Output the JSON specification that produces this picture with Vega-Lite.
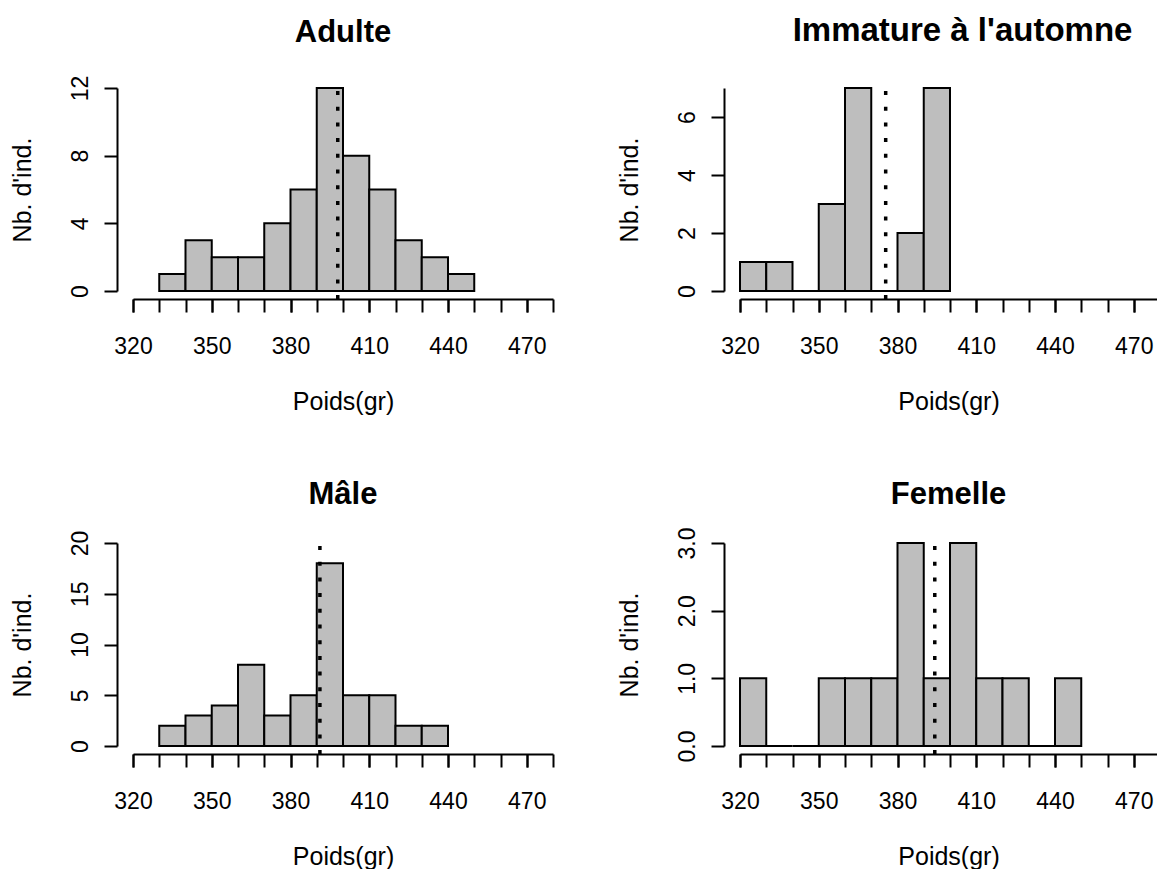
{
  "$schema": "https://vega.github.io/schema/vega-lite/v6.json",
  "padding": {"left": 9, "top": 15, "right": 0, "bottom": 0},
  "background": "white",
  "datasets": {
    "adulte": [
      {"lo": 330, "hi": 340, "n": 1}, {"lo": 340, "hi": 350, "n": 3}, {"lo": 350, "hi": 360, "n": 2},
      {"lo": 360, "hi": 370, "n": 2}, {"lo": 370, "hi": 380, "n": 4}, {"lo": 380, "hi": 390, "n": 6},
      {"lo": 390, "hi": 400, "n": 12}, {"lo": 400, "hi": 410, "n": 8}, {"lo": 410, "hi": 420, "n": 6},
      {"lo": 420, "hi": 430, "n": 3}, {"lo": 430, "hi": 440, "n": 2}, {"lo": 440, "hi": 450, "n": 1}
    ],
    "immature": [
      {"lo": 320, "hi": 330, "n": 1}, {"lo": 330, "hi": 340, "n": 1}, {"lo": 340, "hi": 350, "n": 0},
      {"lo": 350, "hi": 360, "n": 3}, {"lo": 360, "hi": 370, "n": 7}, {"lo": 370, "hi": 380, "n": 0},
      {"lo": 380, "hi": 390, "n": 2}, {"lo": 390, "hi": 400, "n": 7}
    ],
    "male": [
      {"lo": 330, "hi": 340, "n": 2}, {"lo": 340, "hi": 350, "n": 3}, {"lo": 350, "hi": 360, "n": 4},
      {"lo": 360, "hi": 370, "n": 8}, {"lo": 370, "hi": 380, "n": 3}, {"lo": 380, "hi": 390, "n": 5},
      {"lo": 390, "hi": 400, "n": 18}, {"lo": 400, "hi": 410, "n": 5}, {"lo": 410, "hi": 420, "n": 5},
      {"lo": 420, "hi": 430, "n": 2}, {"lo": 430, "hi": 440, "n": 2}
    ],
    "femelle": [
      {"lo": 320, "hi": 330, "n": 1}, {"lo": 330, "hi": 340, "n": 0}, {"lo": 340, "hi": 350, "n": 0},
      {"lo": 350, "hi": 360, "n": 1}, {"lo": 360, "hi": 370, "n": 1}, {"lo": 370, "hi": 380, "n": 1},
      {"lo": 380, "hi": 390, "n": 3}, {"lo": 390, "hi": 400, "n": 1}, {"lo": 400, "hi": 410, "n": 3},
      {"lo": 410, "hi": 420, "n": 1}, {"lo": 420, "hi": 430, "n": 1}, {"lo": 430, "hi": 440, "n": 0},
      {"lo": 440, "hi": 450, "n": 1}
    ]
  },
  "columns": 2,
  "spacing": {"column": 62, "row": 65},
  "concat": [
    {
      "width": 420, "height": 203,
      "title": {"text": "Adulte", "offset": 26},
      "data": {"name": "adulte"},
      "resolve": {"axis": {"x": "independent"}},
      "layer": [
        {
          "mark": {"type": "bar", "fill": "#BEBEBE", "stroke": "black", "strokeWidth": 2},
          "encoding": {
            "x": {"field": "lo", "type": "quantitative", "title": "Poids(gr)",
                  "scale": {"domain": [320, 480], "nice": false, "zero": false},
                  "axis": {"orient": "bottom", "values": [320,330,340,350,360,370,380,390,400,410,420,430,440,450,460,470,480], "labels": false}},
            "x2": {"field": "hi"},
            "y": {"field": "n", "type": "quantitative", "title": "Nb. d'ind.",
                  "scale": {"domain": [0, 12], "nice": false, "zero": false},
                  "axis": {"values": [0,2,4,6,8,10,12], "format": "d",
                           "labelExpr": "datum.value % 4 === 0 ? datum.label : ''"}},
            "y2": {"datum": 0}
          }
        },
        {
          "data": {"values": [{"m": 398}]},
          "mark": {"type": "rule", "color": "black", "strokeWidth": 3.5, "strokeDash": [4, 11.7], "strokeCap": "butt"},
          "encoding": {
            "x": {"field": "m", "type": "quantitative",
                  "axis": {"orient": "bottom", "values": [320,350,380,410,440,470], "format": "d", "domain": false, "title": null}},
            "y": {"datum": -0.48}, "y2": {"datum": 12}}
        }
      ]
    },
    {
      "width": 417, "height": 203,
      "title": {"text": "Immature à l'automne", "offset": 38, "fontSize": 33, "dx": 14},
      "data": {"name": "immature"},
      "resolve": {"axis": {"x": "independent"}},
      "layer": [
        {
          "mark": {"type": "bar", "fill": "#BEBEBE", "stroke": "black", "strokeWidth": 2},
          "encoding": {
            "x": {"field": "lo", "type": "quantitative", "title": "Poids(gr)",
                  "scale": {"domain": [320, 478.857], "nice": false, "zero": false},
                  "axis": {"orient": "bottom", "values": [320,330,340,350,360,370,380,390,400,410,420,430,440,450,460,470], "labels": false}},
            "x2": {"field": "hi"},
            "y": {"field": "n", "type": "quantitative", "title": "Nb. d'ind.",
                  "scale": {"domain": [0, 7], "nice": false, "zero": false},
                  "axis": {"values": [0,1,2,3,4,5,6,7], "format": "d",
                           "labelExpr": "datum.value % 2 === 0 ? datum.label : ''"}},
            "y2": {"datum": 0}
          }
        },
        {
          "data": {"values": [{"m": 375.5}]},
          "mark": {"type": "rule", "color": "black", "strokeWidth": 3.5, "strokeDash": [4, 11.7], "strokeCap": "butt"},
          "encoding": {
            "x": {"field": "m", "type": "quantitative",
                  "axis": {"orient": "bottom", "values": [320,350,380,410,440,470], "format": "d", "domain": false, "title": null}},
            "y": {"datum": -0.28}, "y2": {"datum": 7}}
        }
      ]
    },
    {
      "width": 420, "height": 203,
      "title": {"text": "Mâle", "offset": 19},
      "data": {"name": "male"},
      "resolve": {"axis": {"x": "independent"}},
      "layer": [
        {
          "mark": {"type": "bar", "fill": "#BEBEBE", "stroke": "black", "strokeWidth": 2},
          "encoding": {
            "x": {"field": "lo", "type": "quantitative", "title": "Poids(gr)",
                  "scale": {"domain": [320, 480], "nice": false, "zero": false},
                  "axis": {"orient": "bottom", "values": [320,330,340,350,360,370,380,390,400,410,420,430,440,450,460,470,480], "labels": false}},
            "x2": {"field": "hi"},
            "y": {"field": "n", "type": "quantitative", "title": "Nb. d'ind.",
                  "scale": {"domain": [0, 20], "nice": false, "zero": false},
                  "axis": {"values": [0,5,10,15,20], "format": "d"}},
            "y2": {"datum": 0}
          }
        },
        {
          "data": {"values": [{"m": 391.2}]},
          "mark": {"type": "rule", "color": "black", "strokeWidth": 3.5, "strokeDash": [4, 11.7], "strokeCap": "butt"},
          "encoding": {
            "x": {"field": "m", "type": "quantitative",
                  "axis": {"orient": "bottom", "values": [320,350,380,410,440,470], "format": "d", "domain": false, "title": null}},
            "y": {"datum": -0.8}, "y2": {"datum": 20}}
        }
      ]
    },
    {
      "width": 417, "height": 203,
      "title": {"text": "Femelle", "offset": 16},
      "data": {"name": "femelle"},
      "resolve": {"axis": {"x": "independent"}},
      "layer": [
        {
          "mark": {"type": "bar", "fill": "#BEBEBE", "stroke": "black", "strokeWidth": 2},
          "encoding": {
            "x": {"field": "lo", "type": "quantitative", "title": "Poids(gr)",
                  "scale": {"domain": [320, 478.857], "nice": false, "zero": false},
                  "axis": {"orient": "bottom", "values": [320,330,340,350,360,370,380,390,400,410,420,430,440,450,460,470], "labels": false}},
            "x2": {"field": "hi"},
            "y": {"field": "n", "type": "quantitative", "title": "Nb. d'ind.",
                  "scale": {"domain": [0, 3], "nice": false, "zero": false},
                  "axis": {"values": [0,0.5,1,1.5,2,2.5,3], "format": ".1f",
                           "labelExpr": "datum.value % 1 === 0 ? datum.label : ''"}},
            "y2": {"datum": 0}
          }
        },
        {
          "data": {"values": [{"m": 394.2}]},
          "mark": {"type": "rule", "color": "black", "strokeWidth": 3.5, "strokeDash": [4, 11.7], "strokeCap": "butt"},
          "encoding": {
            "x": {"field": "m", "type": "quantitative",
                  "axis": {"orient": "bottom", "values": [320,350,380,410,440,470], "format": "d", "domain": false, "title": null}},
            "y": {"datum": -0.12}, "y2": {"datum": 3}}
        }
      ]
    }
  ],
  "config": {
    "view": {"stroke": null},
    "font": "Liberation Sans",
    "title": {"font": "Liberation Sans", "fontSize": 31, "fontWeight": "bold", "color": "black", "anchor": "middle", "frame": "group", "baseline": "alphabetic"},
    "axis": {
      "grid": false, "domainColor": "black", "domainWidth": 2, "tickColor": "black", "tickWidth": 2, "tickSize": 13,
      "labelFont": "Liberation Sans", "labelFontSize": 23, "labelColor": "black",
      "titleFont": "Liberation Sans", "titleFontSize": 25, "titleFontWeight": "normal", "titleColor": "black",
      "labelOverlap": false, "labelFlush": false
    },
    "axisX": {"offset": 8, "labelPadding": 41, "labelBaseline": "alphabetic", "titleY": 110, "titleBaseline": "alphabetic"},
    "axisY": {"offset": 16, "labelAngle": -90, "labelAlign": "center", "labelBaseline": "alphabetic", "labelPadding": 17, "titleX": -87, "titleBaseline": "alphabetic", "titleAngle": -90}
  }
}
